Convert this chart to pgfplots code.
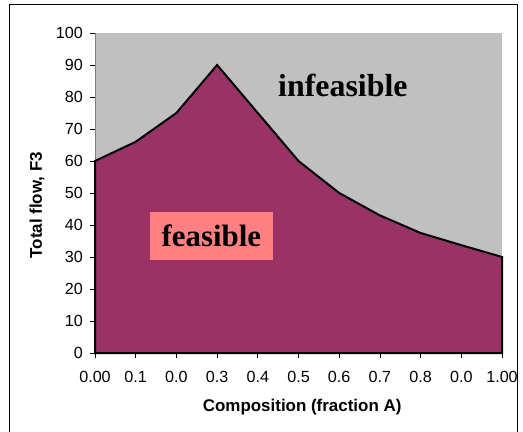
\documentclass[border=0pt]{standalone}
\usepackage{pgfplots}
\pgfplotsset{compat=1.18}
\usepackage{fontspec}
\setmainfont{Liberation Sans}
\newfontfamily\tnr{Liberation Serif}
\definecolor{maroon}{HTML}{993366}
\definecolor{plotgray}{HTML}{C0C0C0}
\definecolor{salmon}{HTML}{FF8080}
\begin{document}
\begin{tikzpicture}[x=1bp,y=1bp]
\useasboundingbox (0,0) rectangle (523,431);
\fill[white] (0,0) rectangle (523,431);
\begin{scope}
\clip (0,0) rectangle (523,431);
\draw[black, line width=1bp] (9,-5) rectangle (517,426);
\end{scope}
\begin{axis}[at={(95bp,78bp)}, anchor=south west, scale only axis,
  width=407bp, height=320bp,
  xmin=0, xmax=1, ymin=0, ymax=100, clip=false,
  axis background/.style={fill=plotgray},
  axis lines*=left,
  axis line style={black!50, line width=1bp},
  xtick={0,0.1,0.2,0.3,0.4,0.5,0.6,0.7,0.8,0.9,1},
  xticklabels={0.00,0.1,0.0,0.3,0.4,0.5,0.6,0.7,0.8,0.0,1.00},
  ytick={0,10,20,30,40,50,60,70,80,90,100},
  tick align=outside, major tick length=5bp,
  tick style={black, line width=0.75bp},
  ticklabel style={font=\fontsize{16.2}{19}\selectfont},
  /pgf/number format/assume math mode=true,
  yticklabel style={inner sep=0pt, xshift=-7bp},
  xticklabel style={inner sep=0pt, yshift=-13bp},
  xlabel={Composition (fraction A)}, ylabel={Total flow, F3},
  label style={font=\bfseries\fontsize{17}{20}\selectfont},
  xlabel style={at={(axis description cs:0.509,-0.169)}, anchor=center},
  ylabel style={at={(axis description cs:-0.1425,0.462)}, anchor=center},
]
\addplot[fill=maroon, draw=black, line width=2bp, line join=miter] coordinates {
(0,60) (0.1,66) (0.2,75) (0.3,90) (0.4,75) (0.5,60) (0.6,50) (0.7,43) (0.8,37.5) (0.9,33.7) (1,30)
} \closedcycle;
\node[font=\tnr\bfseries\fontsize{32}{38}\selectfont, anchor=base] at (axis cs:0.609,80) {infeasible};
\node[fill=salmon, minimum width=123bp, minimum height=48bp, inner sep=0pt,
  font=\tnr\bfseries\fontsize{31}{37}\selectfont] at (axis cs:0.286,36.6) {feasible};
\end{axis}
\end{tikzpicture}
\end{document}
